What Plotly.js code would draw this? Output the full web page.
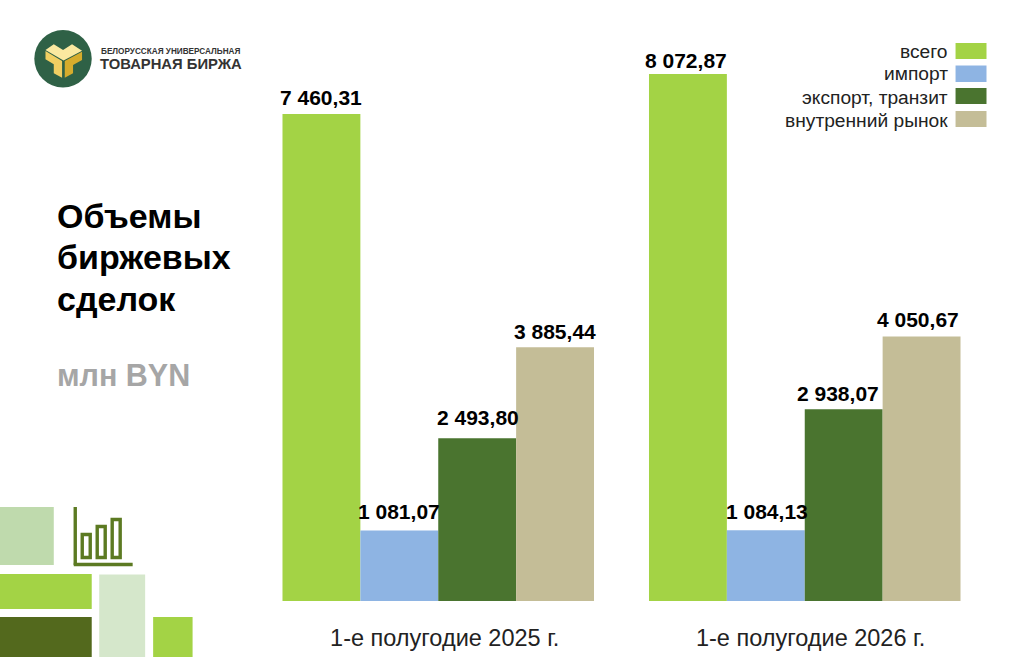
<!DOCTYPE html>
<html><head><meta charset="utf-8">
<script src="https://cdn.plot.ly/plotly-3.0.1.min.js"></script>
<style>html,body{margin:0;padding:0;background:#fff}#c{width:1024px;height:657px}</style>
</head><body><div id="c"></div>
<script>
const categories = ["1-е полугодие 2025 г.", "1-е полугодие 2026 г."];
const seriesNames = ["всего", "импорт", "экспорт, транзит", "внутренний рынок"];
const total = [7460.31, 8072.87];
const importVals = [1081.07, 1084.13];
const exportVals = [2493.80, 2938.07];
const domestic = [3885.44, 4050.67];
const colors = ["#A3D345", "#8EB4E3", "#4A742F", "#C4BD97"];
// hand-placed label nudges of the original slide, px: [per series][per category]
const labelDx = [[0, -2], [0, 1], [1, -6], [0, -4]];
const labelDy = [[16, 14], [19, 19], [21, 16], [16, 17]];

const W = 1024, H = 657, mL = 254.5, mR = 35.5, mT = 30, mB = 56;
const bargap = 0.15;
const px = x => (x - mL) / (W - mL - mR);
const py = y => 1 - (y - mT) / (H - mT - mB);
const fmt = v => v.toFixed(2).replace(".", ",").replace(/\B(?=(\d{3})(?!\d))/g, " ");
const allSeries = [total, importVals, exportVals, domestic];

const traces = allSeries.map((vals, i) => ({
  type: "bar", name: seriesNames[i], x: categories, y: vals,
  marker: {color: colors[i], line: {width: 0}}, hoverinfo: "skip"
}));

const rect = (x0, y0, x1, y1, fill) => ({type: "rect", xref: "paper", yref: "paper", layer: "below",
  x0: px(x0), x1: px(x1), y0: py(y0), y1: py(y1), fillcolor: fill, line: {width: 0}});
const poly = (pts, fill) => ({type: "path", xref: "paper", yref: "paper", layer: "below",
  path: "M" + pts.map(p => px(p[0]) + "," + py(p[1])).join("L") + "Z", fillcolor: fill, line: {width: 0}});
const line = (x0, y0, x1, y1, w) => ({type: "line", xref: "paper", yref: "paper", layer: "below",
  x0: px(x0), x1: px(x1), y0: py(y0), y1: py(y1), line: {color: "#5C7A22", width: w}});
const outline = (x0, y0, x1, y1) => ({type: "rect", xref: "paper", yref: "paper", layer: "below",
  x0: px(x0), x1: px(x1), y0: py(y0), y1: py(y1), fillcolor: "rgba(0,0,0,0)", line: {color: "#5C7A22", width: 3.4}});
const txt = (x, y, text, size, opt) => Object.assign({xref: "paper", yref: "paper", x: px(x), y: py(y),
  text, showarrow: false, xanchor: "left", yanchor: "middle",
  font: {family: "Liberation Sans", size, color: "#000"}}, opt || {});

const shapes = [
  rect(-3, 507, 53, 565, "#BFDAAD"),
  rect(-3, 574, 91, 609, "#A3D345"),
  rect(-3, 617, 91, 660, "#53691D"),
  rect(98.5, 574.5, 144.5, 660, "#D5E7CB"),
  rect(152.5, 617, 192, 660, "#A3D345"),
  line(74.5, 507, 74.5, 565, 3.4), line(73, 564.5, 132, 564.5, 3.4),
  outline(81.5, 534.5, 89.5, 557.5), outline(96.5, 526.5, 104.5, 557.5), outline(111.5, 519.5, 119.5, 557.5),
  {type: "circle", xref: "paper", yref: "paper", layer: "below",
   x0: px(33.5), x1: px(91), y0: py(30), y1: py(87.5), fillcolor: "#2F6146", line: {width: 0}},
  poly([[44.7, 50], [53, 44.3], [62.3, 50], [71.3, 44.3], [81.3, 50.7], [62.8, 60.5]], "#FBE9A0"),
  poly([[44.7, 51], [61.3, 61], [61.3, 77.7], [53, 73.3], [53, 64.3], [44.7, 59.3]], "#F1CF62"),
  poly([[64, 61], [81.3, 51.7], [81.3, 60], [72.3, 65], [72.3, 73.3], [64, 77.7]], "#D6AC2C"),
  rect(956, 43, 987, 59, colors[0]),
  rect(956, 65.5, 987, 82, colors[1]),
  rect(956, 88, 987, 104, colors[2]),
  rect(956, 111, 987, 127, colors[3])
];

const barWidth = (1 - bargap) / allSeries.length;
const valueLabels = [];
allSeries.forEach((vals, s) => vals.forEach((v, c) => valueLabels.push({
  xref: "x", yref: "y", x: c + (s - (allSeries.length - 1) / 2) * barWidth, y: v,
  text: "<b>" + fmt(v) + "</b>", showarrow: false, xanchor: "center", yanchor: "middle",
  xshift: labelDx[s][c], yshift: labelDy[s][c],
  font: {family: "Liberation Sans", size: 21, color: "#000"}
})));

const annotations = [
  txt(98, 52, "<b>БЕЛОРУССКАЯ УНИВЕРСАЛЬНАЯ</b>", 8, {font: {family: "Liberation Sans", size: 8.2, color: "#333"}}),
  txt(97, 64, "<b>ТОВАРНАЯ БИРЖА</b>", 15, {font: {family: "Liberation Sans", size: 14.8, color: "#333"}}),
  txt(54, 216, "<b>Объемы</b>", 34),
  txt(54, 257, "<b>биржевых</b>", 34),
  txt(54, 299, "<b>сделок</b>", 34),
  txt(54, 375, "<b>млн BYN</b>", 30.5, {font: {family: "Liberation Sans", size: 30.5, color: "#A6A6A6"}}),
].concat(seriesNames.map((n, i) => txt(950.5, [51, 74, 97, 120][i], n, 19.2, {xanchor: "right", font: {family: "Liberation Sans", size: 19.2, color: "#222"}})))
 .concat(valueLabels);

Plotly.newPlot("c", traces, {
  width: W, height: H, showlegend: false, paper_bgcolor: "#fff", plot_bgcolor: "#fff",
  margin: {l: mL, r: mR, t: mT, b: mB, pad: 0},
  barmode: "group", bargap: bargap, bargroupgap: 0,
  xaxis: {type: "category", range: [-0.5, 1.5], showline: false, showgrid: false, zeroline: false, ticks: "",
    tickmode: "array", tickvals: [0.0177, 1.016], ticktext: categories,
    tickfont: {family: "Liberation Sans", size: 23.5, color: "#222"}, ticklabelstandoff: 20, automargin: false},
  yaxis: {range: [0, 571 / 0.06528], visible: false, showgrid: false, zeroline: false},
  shapes, annotations
}, {displayModeBar: false, staticPlot: true});
</script></body></html>
